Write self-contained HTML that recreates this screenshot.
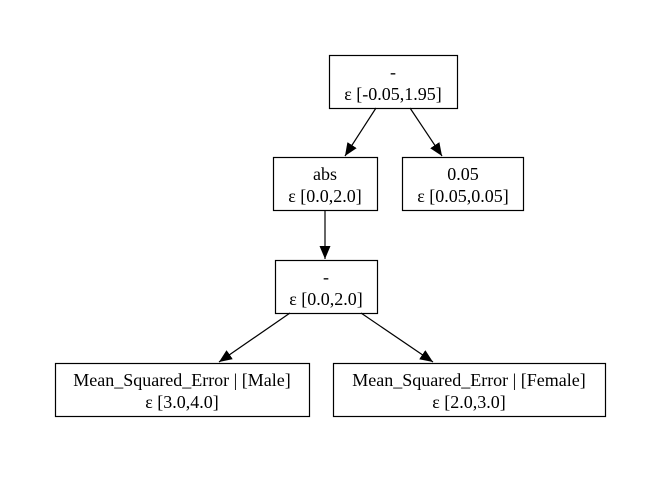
<!DOCTYPE html>
<html><head><meta charset="utf-8"><style>
body{margin:0;background:#fff;}
svg text{font-family:"Liberation Serif",serif;font-size:18px;fill:#000;text-anchor:middle;}
</style></head><body>
<svg width="658" height="472" viewBox="0 0 658 472" xmlns="http://www.w3.org/2000/svg">
<defs><marker id="a" markerWidth="14" markerHeight="12" refX="13" refY="6" orient="auto" markerUnits="userSpaceOnUse"><path d="M0,0.5 L13,6 L0,11.5 Z" fill="#000"/></marker></defs>
<g fill="none" stroke="#000" stroke-width="1.2">
<rect x="329.5" y="55.5" width="128" height="53"/>
<rect x="273.5" y="157.5" width="104" height="53"/>
<rect x="402.5" y="157.5" width="121" height="53"/>
<rect x="275.5" y="260.5" width="102" height="53"/>
<rect x="55.5" y="363.5" width="254" height="53"/>
<rect x="333.5" y="363.5" width="272" height="53"/>
<line x1="376" y1="108" x2="345" y2="156" marker-end="url(#a)"/>
<line x1="410" y1="108" x2="442" y2="156" marker-end="url(#a)"/>
<line x1="325" y1="210" x2="325" y2="259" marker-end="url(#a)"/>
<line x1="290" y1="313" x2="219" y2="362" marker-end="url(#a)"/>
<line x1="361" y1="313" x2="433" y2="362" marker-end="url(#a)"/>
</g>
<text x="393" y="78">-</text><text x="393" y="100">ε [-0.05,1.95]</text>
<text x="325" y="180">abs</text><text x="325" y="202">ε [0.0,2.0]</text>
<text x="463" y="180">0.05</text><text x="463" y="202">ε [0.05,0.05]</text>
<text x="326" y="283">-</text><text x="326" y="305">ε [0.0,2.0]</text>
<text x="182" y="386">Mean_Squared_Error | [Male]</text><text x="182" y="408">ε [3.0,4.0]</text>
<text x="469" y="386">Mean_Squared_Error | [Female]</text><text x="469" y="408">ε [2.0,3.0]</text>
</svg>
</body></html>
